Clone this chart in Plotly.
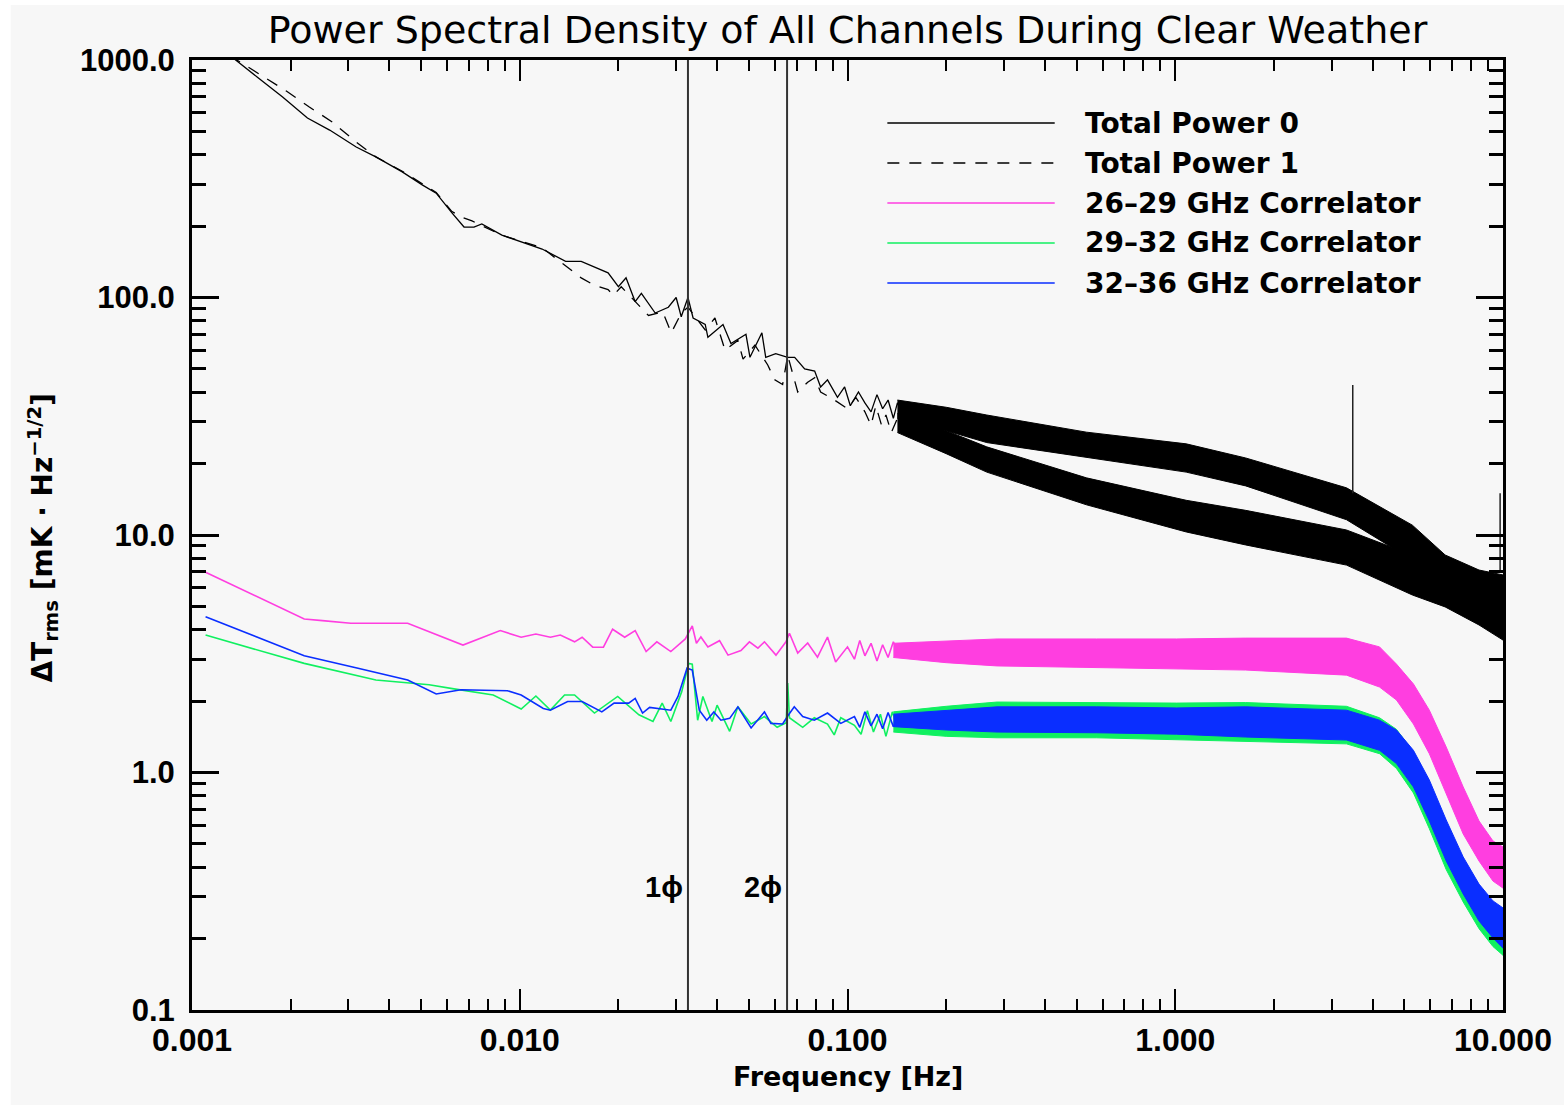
import numpy as np
import plotly.graph_objects as go

# ---------------- data ----------------
tp0_freq = [0.0011, 0.00133, 0.00158, 0.00189, 0.00225, 0.00263, 0.00317, 0.00365, 0.00438, 0.00504,
            0.00556, 0.00621, 0.00676, 0.00725, 0.00766, 0.00882, 0.0101, 0.0117, 0.0138, 0.0154,
            0.0186, 0.0200, 0.0211, 0.0225, 0.0235, 0.0259, 0.0284, 0.0300, 0.0311, 0.0326,
            0.0338, 0.0368, 0.0375, 0.0417, 0.0441, 0.0490, 0.0504, 0.0548, 0.0563, 0.0604,
            0.0657, 0.0690, 0.0740, 0.0794, 0.0828, 0.0869, 0.0932, 0.0980, 0.102, 0.108,
            0.113, 0.118, 0.123, 0.128, 0.133, 0.138, 0.142, 0.148, 0.155]
tp0_val = [1260, 1019, 848, 698, 570, 507, 430, 390, 338, 298,
           275, 227, 198, 198, 204, 183, 171, 160, 142, 142,
           127, 111, 121, 96, 104, 86, 91, 100, 83, 100,
           82, 77, 68, 77, 64, 70, 56, 71, 56, 58,
           56, 56, 50, 49, 42, 45, 38, 42, 35, 40,
           36, 33, 39, 34, 37, 31, 36, 32, 35]

tp1_freq = [0.00115, 0.00137, 0.00164, 0.00194, 0.00228, 0.00268, 0.00317, 0.00365, 0.00438, 0.00504,
            0.00556, 0.00621, 0.00666, 0.00715, 0.00882, 0.0117, 0.0141, 0.0154, 0.0168, 0.0186,
            0.0193, 0.0204, 0.0247, 0.0273, 0.0290, 0.0311, 0.0326, 0.0368, 0.0394, 0.0423,
            0.0463, 0.0480, 0.0522, 0.0571, 0.0600, 0.0634, 0.0657, 0.0705, 0.0756, 0.0794,
            0.0828, 0.0913, 0.100, 0.106, 0.113, 0.118, 0.122, 0.127, 0.131, 0.136,
            0.142, 0.148, 0.155]
tp1_val = [1180, 1000, 856, 740, 634, 548, 451, 390, 340, 300,
           277, 230, 218, 210, 183, 162, 133, 121, 113, 108,
           102, 111, 84, 87, 71, 86, 91, 73, 82, 60,
           66, 55, 63, 52, 45, 43, 57, 40, 44, 46,
           40, 37, 34, 38, 33, 29, 35, 29, 32, 27,
           31, 27, 30]

c26_freq = [0.0011, 0.0022, 0.0025, 0.00305, 0.00455, 0.00671, 0.00872, 0.0101, 0.0112, 0.0124,
            0.0133, 0.0147, 0.0155, 0.0167, 0.0180, 0.0192, 0.0209, 0.0225, 0.0243, 0.0262,
            0.0289, 0.0320, 0.0336, 0.0346, 0.0357, 0.0375, 0.0407, 0.0432, 0.0473, 0.0502,
            0.0533, 0.0558, 0.0605, 0.0649, 0.0665, 0.0705, 0.0756, 0.0810, 0.0869, 0.0920,
            0.100, 0.105, 0.109, 0.113, 0.118, 0.123, 0.128, 0.133, 0.138, 0.143]
c26_val = [6.97, 4.43, 4.36, 4.25, 4.25, 3.44, 3.96, 3.71, 3.83, 3.71,
           3.79, 3.55, 3.71, 3.37, 3.37, 4.01, 3.71, 3.96, 3.23, 3.55,
           3.23, 3.65, 4.14, 3.50, 3.72, 3.38, 3.59, 3.12, 3.26, 3.55,
           3.34, 3.55, 3.12, 3.55, 3.86, 3.18, 3.51, 3.06, 3.72, 2.92,
           3.38, 3.00, 3.60, 3.10, 3.50, 2.95, 3.45, 3.05, 3.55, 3.20]

c29_freq = [0.0011, 0.0022, 0.00364, 0.00467, 0.00529, 0.0063, 0.0083, 0.0101, 0.0112, 0.0124,
            0.0137, 0.0147, 0.0169, 0.0199, 0.0231, 0.0255, 0.0272, 0.0289, 0.0312, 0.0328,
            0.0336, 0.0349, 0.0362, 0.0386, 0.0400, 0.0437, 0.0463, 0.0508, 0.0558, 0.0610,
            0.0650, 0.0657, 0.0665, 0.0730, 0.0792, 0.0869, 0.0911, 0.0954, 0.105, 0.110,
            0.115, 0.120, 0.126, 0.131, 0.137, 0.143]
c29_val = [3.79, 2.88, 2.45, 2.38, 2.34, 2.25, 2.12, 1.85, 2.10, 1.83,
           2.12, 2.12, 1.78, 2.09, 1.75, 1.64, 1.96, 1.64, 2.19, 2.88,
           2.86, 1.66, 2.09, 1.64, 1.92, 1.49, 1.89, 1.60, 1.72, 1.55,
           1.62, 2.38, 1.70, 1.55, 1.70, 1.60, 1.44, 1.70, 1.58, 1.45,
           1.82, 1.48, 1.76, 1.42, 1.80, 1.50]

c32_freq = [0.0011, 0.0022, 0.00321, 0.00455, 0.00556, 0.00662, 0.00917, 0.0101, 0.0118, 0.0124,
            0.0140, 0.0155, 0.0178, 0.0194, 0.0215, 0.0225, 0.0237, 0.0249, 0.0289, 0.0304,
            0.0324, 0.0336, 0.0353, 0.0372, 0.0391, 0.0411, 0.0437, 0.0463, 0.0508, 0.0558,
            0.0584, 0.0634, 0.0657, 0.0688, 0.0730, 0.0792, 0.0869, 0.0954, 0.105, 0.109,
            0.113, 0.118, 0.123, 0.128, 0.133, 0.138, 0.143]
c32_val = [4.53, 3.10, 2.75, 2.45, 2.14, 2.23, 2.21, 2.12, 1.86, 1.83,
           1.99, 1.99, 1.80, 1.96, 1.96, 2.05, 1.78, 1.88, 1.83, 2.09,
           2.75, 2.70, 1.83, 1.66, 1.80, 1.66, 1.69, 1.89, 1.54, 1.80,
           1.61, 1.60, 1.73, 1.89, 1.72, 1.66, 1.78, 1.61, 1.72, 1.55,
           1.80, 1.57, 1.76, 1.53, 1.79, 1.56, 1.70]

# dense, noisy high-frequency part: upper / lower edge of each band
black_band_freq = [0.142, 0.20, 0.266, 0.536, 1.08, 1.64, 3.33, 5.29, 6.66, 8.45, 10.0]
tp0_band_hi = [37.0, 34.5, 32.0, 27.1, 24.2, 21.1, 15.8, 11.0, 8.24, 7.12, 6.79]
tp0_band_lo = [31.0, 27.5, 24.5, 21.3, 18.4, 16.1, 11.6, 7.85, 6.16, 4.83, 4.18]
tp1_band_hi = [32.5, 27.5, 23.5, 17.4, 14.0, 12.7, 10.5, 8.24, 7.12, 6.16, 5.87]
tp1_band_lo = [27.0, 22.0, 18.4, 13.4, 10.3, 9.08, 7.47, 5.59, 4.98, 4.18, 3.61]

corr_band_freq = [0.138, 0.20, 0.286, 0.575, 1.01, 1.64, 3.33, 4.20, 4.73, 5.33, 5.96, 6.71, 7.56, 8.45, 9.32, 10.0]
c26_band_hi = [3.50, 3.58, 3.65, 3.65, 3.65, 3.68, 3.68, 3.38, 2.86, 2.36, 1.83, 1.28, 0.869, 0.625, 0.515, 0.486]
c26_band_lo = [3.05, 2.90, 2.81, 2.75, 2.73, 2.70, 2.57, 2.29, 2.02, 1.60, 1.20, 0.812, 0.551, 0.424, 0.349, 0.326]
c29_band_hi = [1.80, 1.90, 1.98, 1.97, 1.96, 1.97, 1.90, 1.70, 1.52, 1.22, 0.90, 0.60, 0.42, 0.32, 0.27, 0.25]
c29_band_lo = [1.48, 1.42, 1.40, 1.40, 1.38, 1.35, 1.32, 1.20, 1.04, 0.82, 0.58, 0.39, 0.285, 0.22, 0.185, 0.170]
c32_band_hi = [1.76, 1.83, 1.89, 1.89, 1.87, 1.89, 1.83, 1.66, 1.51, 1.24, 0.930, 0.631, 0.441, 0.339, 0.288, 0.269]
c32_band_lo = [1.56, 1.51, 1.48, 1.47, 1.45, 1.41, 1.37, 1.24, 1.09, 0.869, 0.625, 0.424, 0.308, 0.237, 0.201, 0.182]

# isolated spikes in Total Power 0
spike_freq = [3.48, 9.8]
spike_lo = [15.0, 7.0]
spike_hi = [42.8, 15.0]

# chopping frequencies
phase_freq = [0.0326, 0.0654]
phase_labels = ["1ϕ", "2ϕ"]

x_tick_vals = [0.001, 0.01, 0.1, 1, 10]
x_tick_text = ["0.001", "0.010", "0.100", "1.000", "10.000"]
y_tick_vals = [0.1, 1, 10, 100, 1000]
y_tick_text = ["0.1", "1.0", "10.0", "100.0", "1000.0"]

legend_labels = ["Total Power 0", "Total Power 1", "26–29 GHz Correlator",
                 "29–32 GHz Correlator", "32–36 GHz Correlator"]

BLACK = "#000000"
PINK = "#ff3ee0"
GREEN = "#10f060"
BLUE = "#0a2eff"
legend_colors = [BLACK, BLACK, PINK, GREEN, BLUE]
legend_dash = ["solid", "12px,10px", "solid", "solid", "solid"]

BG = "#f7f7f7"
FONT = "Liberation Sans"
FONT2 = "DejaVu Sans"

# ---------------- figure ----------------
fig = go.Figure()


def band(freq, hi, lo, color):
    fig.add_trace(go.Scatter(
        x=list(freq) + list(freq)[::-1], y=list(hi) + list(lo)[::-1],
        mode="lines", fill="toself", fillcolor=color,
        line=dict(color=color, width=1), hoverinfo="skip", showlegend=False))


def line(freq, val, color, dash="solid", width=1.2):
    fig.add_trace(go.Scatter(x=freq, y=val, mode="lines",
                             line=dict(color=color, width=width, dash=dash),
                             showlegend=False, hoverinfo="skip"))


# total power channels
band(black_band_freq, tp0_band_hi, tp0_band_lo, BLACK)
band(black_band_freq, tp1_band_hi, tp1_band_lo, BLACK)
line(tp0_freq, tp0_val, BLACK, width=1.3)
line(tp1_freq, tp1_val, BLACK, dash="12px,10px", width=1.3)
sx, sy = [], []
for f, lo, hi in zip(spike_freq, spike_lo, spike_hi):
    sx += [f, f, None]
    sy += [lo, hi, None]
fig.add_trace(go.Scatter(x=sx, y=sy, mode="lines", line=dict(color="#222222", width=1.5),
                         showlegend=False, hoverinfo="skip"))

# correlators
band(corr_band_freq, c26_band_hi, c26_band_lo, PINK)
line(c26_freq, c26_val, PINK, width=1.6)
band(corr_band_freq, c29_band_hi, c29_band_lo, GREEN)
line(c29_freq, c29_val, GREEN, width=1.6)
band(corr_band_freq, c32_band_hi, c32_band_lo, BLUE)
line(c32_freq, c32_val, BLUE, width=1.6)

# vertical phase lines
for f in phase_freq:
    fig.add_trace(go.Scatter(x=[f, f], y=[y_tick_vals[0], y_tick_vals[-1]], mode="lines",
                             line=dict(color="#333333", width=2),
                             showlegend=False, hoverinfo="skip"))

annotations = []
for f, lab in zip(phase_freq, phase_labels):
    annotations.append(dict(x=np.log10(f), y=np.log10(0.33), xref="x", yref="y",
                            text=lab, showarrow=False, xanchor="right", yanchor="middle",
                            xshift=-3, font=dict(family=FONT, size=29, color="black", weight="bold")))

# manual legend (long line samples, as in the reference)
L, R, T, B = 192, 56, 60, 100
W, H = 1564 - L - R, 1110 - T - B


def px_x(p):
    return (p - L) / W


def px_y(p):
    return (1110 - B - p) / H


shapes = [dict(type="rect", xref="paper", yref="paper", x0=px_x(10), x1=px_x(1570),
               y0=px_y(1105), y1=px_y(5), fillcolor=BG, line=dict(width=0), layer="below")]
for i, (lab, col, dsh) in enumerate(zip(legend_labels, legend_colors, legend_dash)):
    yy = px_y(123 + 40 * i)
    shapes.append(dict(type="line", xref="paper", yref="paper", x0=px_x(890), x1=px_x(1058),
                       y0=yy, y1=yy, line=dict(color=col, width=1.5, dash=dsh)))
    annotations.append(dict(x=px_x(1086), y=yy, xref="paper", yref="paper", text=lab,
                            showarrow=False, xanchor="left", yanchor="middle",
                            font=dict(family=FONT2, size=28, color="black", weight="bold")))

# axis titles
annotations.append(dict(x=0.5, y=px_y(1076), xref="paper", yref="paper", text="Frequency [Hz]",
                        showarrow=False, xanchor="center", yanchor="middle",
                        font=dict(family=FONT2, size=27, color="black", weight="bold")))
annotations.append(dict(x=px_x(42), y=px_y(538), xref="paper", yref="paper",
                        text="ΔT<sub>rms</sub> [mK · Hz<sup>−1/2</sup>]", textangle=-90,
                        showarrow=False, xanchor="center", yanchor="middle",
                        font=dict(family=FONT2, size=28, color="black", weight="bold")))

x_minor = [k * 10.0 ** d for d in range(-3, 1) for k in range(2, 10)]
y_minor = [k * 10.0 ** d for d in range(-1, 3) for k in range(2, 10)]

fig.update_layout(
    width=1564, height=1110,
    margin=dict(l=L, r=R, t=T, b=B, pad=0),
    paper_bgcolor="white", plot_bgcolor=BG,
    showlegend=False,
    title=dict(text="Power Spectral Density of All Channels During Clear Weather",
               x=0.5, xref="paper", xanchor="center", y=1 - 30 / 1110, yref="container",
               yanchor="middle", font=dict(family=FONT2, size=38, color="black")),
    xaxis=dict(type="log", range=[-3, 1], tickmode="array", tickvals=x_tick_vals,
               ticktext=x_tick_text, ticks="inside", ticklen=21, tickwidth=2, tickcolor="black",
               showline=True, linewidth=3, linecolor="black", mirror="allticks",
               showgrid=False, zeroline=False, ticklabelstandoff=0,
               tickfont=dict(family=FONT, size=32, color="black", weight="bold"),
               minor=dict(tickmode="array", tickvals=x_minor, ticks="inside", ticklen=11,
                          tickwidth=2, tickcolor="black", showgrid=False)),
    yaxis=dict(type="log", range=[-1, 3], tickmode="array", tickvals=y_tick_vals,
               ticktext=y_tick_text, ticks="inside", ticklen=27, tickwidth=3, tickcolor="black",
               showline=True, linewidth=3, linecolor="black", mirror="allticks",
               showgrid=False, zeroline=False, ticklabelstandoff=8,
               tickfont=dict(family=FONT, size=31, color="black", weight="bold"),
               minor=dict(tickmode="array", tickvals=y_minor, ticks="inside", ticklen=14,
                          tickwidth=3, tickcolor="black", showgrid=False)),
    shapes=shapes,
    annotations=annotations,
)

fig.write_html("out.html")
